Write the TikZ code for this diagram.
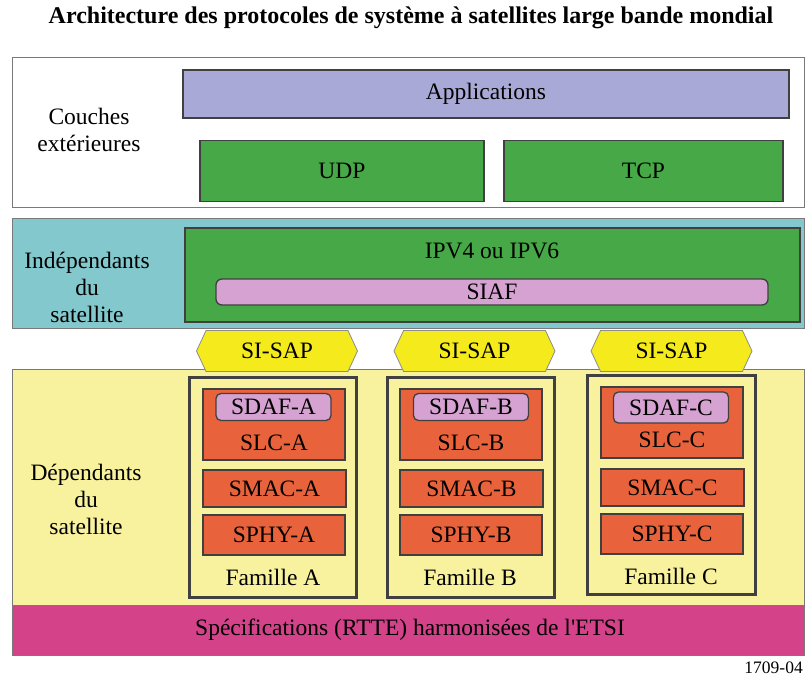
\documentclass[tikz,border=0pt]{standalone}
\usepackage{fontspec}
\setmainfont{Liberation Serif}
\usetikzlibrary{shapes.symbols}
\definecolor{lav}{HTML}{A9A9D8}
\definecolor{grn}{HTML}{46A846}
\definecolor{teal}{HTML}{82C8CC}
\definecolor{pale}{HTML}{F8F19E}
\definecolor{mag}{HTML}{D4428A}
\definecolor{orng}{HTML}{E8633C}
\definecolor{pinkf}{HTML}{D6A2D2}
\definecolor{yel}{HTML}{F4EA1C}
\definecolor{edge}{HTML}{404040}
\newcommand{\bigtxt}{\fontsize{23.5}{27}\selectfont}
\tikzset{
  band/.style={draw=edge!70, line width=1.2pt, inner sep=0pt},
  txt/.style={font=\bigtxt, inner sep=0pt},
  box/.style={draw=edge, line width=1.3pt, inner sep=0pt, font=\bigtxt},
  fam/.style={draw=edge, line width=3pt, fill=pale, inner sep=0pt},
  lbl/.style={font=\bigtxt, align=center, inner sep=0pt},
  layer/.style={box, fill=orng, minimum width=142pt},
  sdaf/.style={box, fill=pinkf, rounded corners=5pt, minimum width=115pt, minimum height=27pt},
  sap/.style={signal, signal to=east and west, signal pointer angle=130, draw=edge!60, line width=0.8pt, fill=yel, minimum width=161pt, minimum height=41pt, inner sep=0pt, font=\bigtxt}
}
\begin{document}
\begin{tikzpicture}[x=1pt,y=-1pt]
\useasboundingbox (0,0) rectangle (805,681);
\node[font=\bfseries\fontsize{24}{26}\selectfont] (title) at (411,18) {Architecture des protocoles de système à satellites large bande mondial};
% bands
\node[band, fill=white, minimum width=792pt, minimum height=150pt, anchor=north west] (top) at (12,57) {};
\node[band, fill=teal, minimum width=792pt, minimum height=110pt, anchor=north west] (indep) at (12,218) {};
\node[band, fill=pale, minimum width=792pt, minimum height=236pt, anchor=north west] (dep) at (12,369) {};
\node[band, fill=mag, minimum width=792pt, minimum height=50pt, anchor=north west] (etsi) at (12,605) {};
\node[txt] (etsit) at (410,630) {Spécifications (RTTE) harmonisées de l\textquotesingle ETSI};
% top band
\node[lbl] (couches) at (89,130) {Couches\\extérieures};
\node[box, fill=lav, minimum width=606pt, minimum height=48pt] (app) at (486,94) {Applications};
\node[box, fill=grn, minimum width=284pt, minimum height=61pt] (udp) at (342,171) {UDP};
\node[box, fill=grn, minimum width=279pt, minimum height=61pt] (tcp) at (643.5,171) {TCP};
% independent band
\node[lbl] (indl) at (87,287) {Indépendants\\du\\satellite};
\node[box, fill=grn, minimum width=615pt, minimum height=94pt] (ip) at (492.5,275) {};
\node[txt] (ipt) at (492,251) {IPV4 ou IPV6};
\node[box, fill=pinkf, rounded corners=6pt, minimum width=552pt, minimum height=26pt] (siaf) at (492,292) {SIAF};
% SI-SAP
\node[sap] (sapa) at (277,351) {SI-SAP};
\node[sap] (sapb) at (474.5,351) {SI-SAP};
\node[sap] (sapc) at (671.5,351) {SI-SAP};
% dependent band
\node[lbl] (depl) at (86,499) {Dépendants\\du\\satellite};
% families
\node[fam, minimum width=167pt, minimum height=220pt] (fa) at (272.5,487) {};
\node[fam, minimum width=167pt, minimum height=220pt] (fb) at (470.5,487) {};
\node[fam, minimum width=168pt, minimum height=219pt] (fc) at (671,484.5) {};
% family A
\node[layer, minimum height=71pt] (slca) at (274,424.5) {};
\node[sdaf] (sdafa) at (273.5,407) {SDAF-A};
\node[txt] (slcat) at (274,443) {SLC-A};
\node[layer, minimum width=143pt, minimum height=37pt] (smaca) at (274.5,488.5) {SMAC-A};
\node[layer, minimum height=40pt] (sphya) at (274,535) {SPHY-A};
\node[txt] (fat) at (273,577) {Famille A};
% family B
\node[layer, minimum height=71pt] (slcb) at (471,424.5) {};
\node[sdaf] (sdafb) at (471,407) {SDAF-B};
\node[txt] (slcbt) at (471,443) {SLC-B};
\node[layer, minimum width=143pt, minimum height=37pt] (smacb) at (471.5,488.5) {SMAC-B};
\node[layer, minimum height=40pt] (sphyb) at (471,535) {SPHY-B};
\node[txt] (fbt) at (470,577) {Famille B};
% family C
\node[layer, minimum height=71pt] (slcc) at (672,422.5) {};
\node[sdaf, minimum height=31pt] (sdafc) at (671,407.5) {SDAF-C};
\node[txt] (slcct) at (672,440) {SLC-C};
\node[layer, minimum width=143pt, minimum height=37pt] (smacc) at (672.5,487.5) {SMAC-C};
\node[layer, minimum height=40pt] (sphyc) at (672,534) {SPHY-C};
\node[txt] (fct) at (671,576) {Famille C};
% figure number
\node[font=\fontsize{17.5}{19}\selectfont, anchor=east, inner sep=0pt] (num) at (803,668) {1709-04};
\end{tikzpicture}
\end{document}
